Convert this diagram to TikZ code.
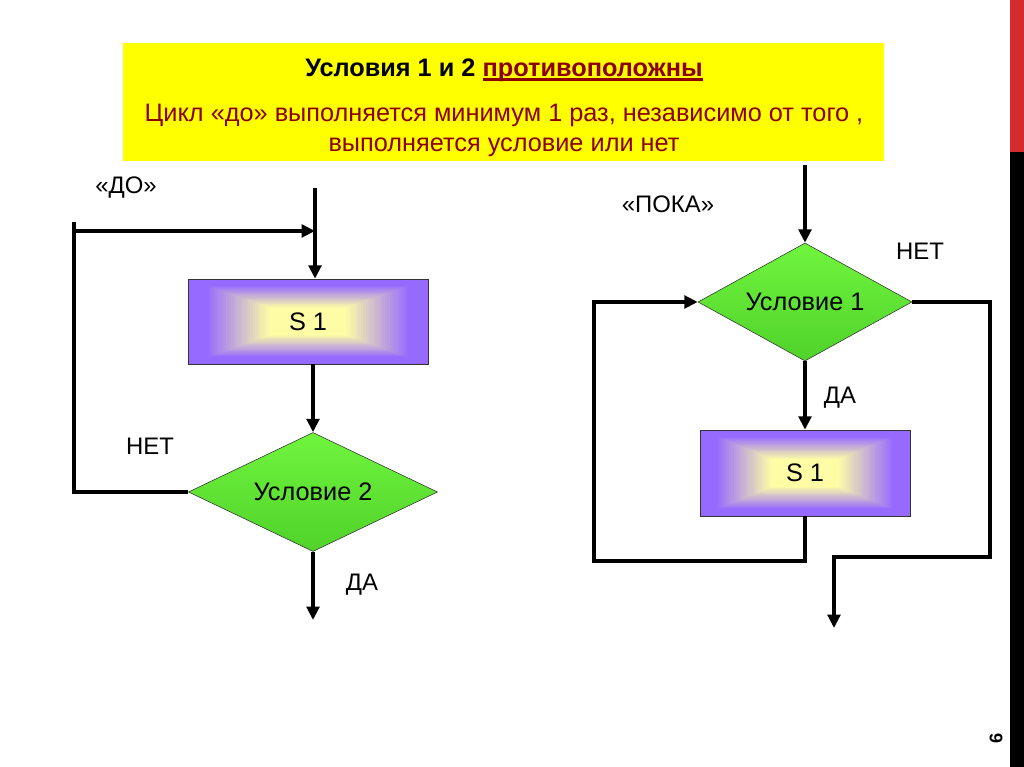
\documentclass[tikz,border=0pt]{standalone}
\usepackage{fontspec}
\setmainfont{Liberation Sans}
\usepackage{tikz}
\usetikzlibrary{arrows.meta,calc,shapes.geometric}
\definecolor{SlideYellow}{RGB}{255,255,0}
\definecolor{TitleRed}{RGB}{140,0,0}
\definecolor{BoxViolet}{RGB}{150,105,255}
\definecolor{BoxCream}{RGB}{255,255,165}
\definecolor{DiamondTop}{RGB}{112,245,62}
\definecolor{DiamondBot}{RGB}{80,210,42}
\definecolor{BarRed}{RGB}{213,43,46}
\newcommand\thickul[1]{\setbox0\hbox{#1}\rlap{\rule[-2.6pt]{\wd0}{1.6pt}}\box0}

\begin{document}
\begin{tikzpicture}[x=0.025cm,y=0.025cm,>={Triangle[length=9.5pt,width=9pt]},
  flow/.style={line width=2.8pt},
  txt/.style={font=\fontsize{17}{21}\selectfont,inner sep=0pt},
  cond/.style={diamond,draw=black!80,thin,shape aspect=2.1,inner sep=0pt,
    top color=DiamondTop,bottom color=DiamondBot,font=\fontsize{18}{21}\selectfont},
  act/.style={rectangle,draw=black!80,thin,inner sep=0pt,font=\fontsize{18}{21}\selectfont,
    path picture={\foreach \t [evaluate=\t as \pc using {int(max(0,min(100,(\t-0.14)*185)))}] in {0,0.02,...,0.7}
      {\fill[BoxCream!\pc!BoxViolet] ($(path picture bounding box.south west)!\t!(path picture bounding box.center)$)
        rectangle ($(path picture bounding box.north east)!\t!(path picture bounding box.center)$);}}}]
\useasboundingbox (0,0) rectangle (1024,767);
% slide edge
\fill[BarRed] (1010,615) rectangle (1024,767);
\fill[black] (1010,0) rectangle (1024,615);
\node[rotate=90,inner sep=0pt,font=\bfseries\fontsize{13}{13}\selectfont] (pnum) at (996,29) {6};
% header
\node[fill=SlideYellow,minimum width=19.025cm,minimum height=2.95cm] (head) at (503.5,665) {};
\node[txt,font=\fontsize{18}{21.3}\selectfont,align=center] (headText) at (504,659)
  {\bfseries Условия 1 и 2 \textcolor{TitleRed}{\thickul{противоположны}}\\[10.5pt]
   \textcolor{TitleRed}{Цикл «до» выполняется минимум 1 раз, независимо от того ,}\\
   \textcolor{TitleRed}{выполняется условие или нет}};
% loop "do"
\coordinate (doTop) at (315,579);
\coordinate (doJoin) at (315,536);
\coordinate (doLoop) at (74,545);
\coordinate (doEnd) at (313,147);
\node[act,minimum width=6cm,minimum height=2.125cm] (s1a) at (308,445.5) {S 1};
\node[cond,minimum width=6.225cm,minimum height=2.975cm] (c2) at (313,275) {Условие 2};
\node[txt] (doLbl) at (126,579) {«ДО»};
\node[txt] (noA) at (150,321) {НЕТ};
\node[txt] (yesA) at (362,182) {ДА};
\draw[flow,->] (doTop) -- (doTop |- s1a.north);
\draw[flow,->] (s1a.south -| c2.north) -- (c2.north);
\draw[flow] (c2.west) -| (doLoop);
\draw[flow,->] (doLoop |- doJoin) -- (doJoin);
\draw[flow,->] (c2.south) -- (doEnd);
% loop "while"
\coordinate (pokaTop) at (805,602);
\coordinate (pokaBack) at (594,206);
\coordinate (pokaRight) at (990,210);
\coordinate (pokaEnd) at (834,139);
\node[cond,minimum width=5.35cm,minimum height=2.95cm] (c1) at (805,465) {Условие 1};
\node[act,minimum width=5.25cm,minimum height=2.15cm] (s1b) at (805,294) {S 1};
\node[txt] (pokaLbl) at (668,563) {«ПОКА»};
\node[txt] (noB) at (920,516) {НЕТ};
\node[txt] (yesB) at (840,369) {ДА};
\draw[flow,->] (pokaTop) -- (c1.north);
\draw[flow,->] (c1.south) -- (s1b.north);
\draw[flow,->] (s1b.south) |- (pokaBack) |- (c1.west);
\draw[flow,->] (c1.east) -| (pokaRight) -| (pokaEnd);
\end{tikzpicture}
\end{document}
